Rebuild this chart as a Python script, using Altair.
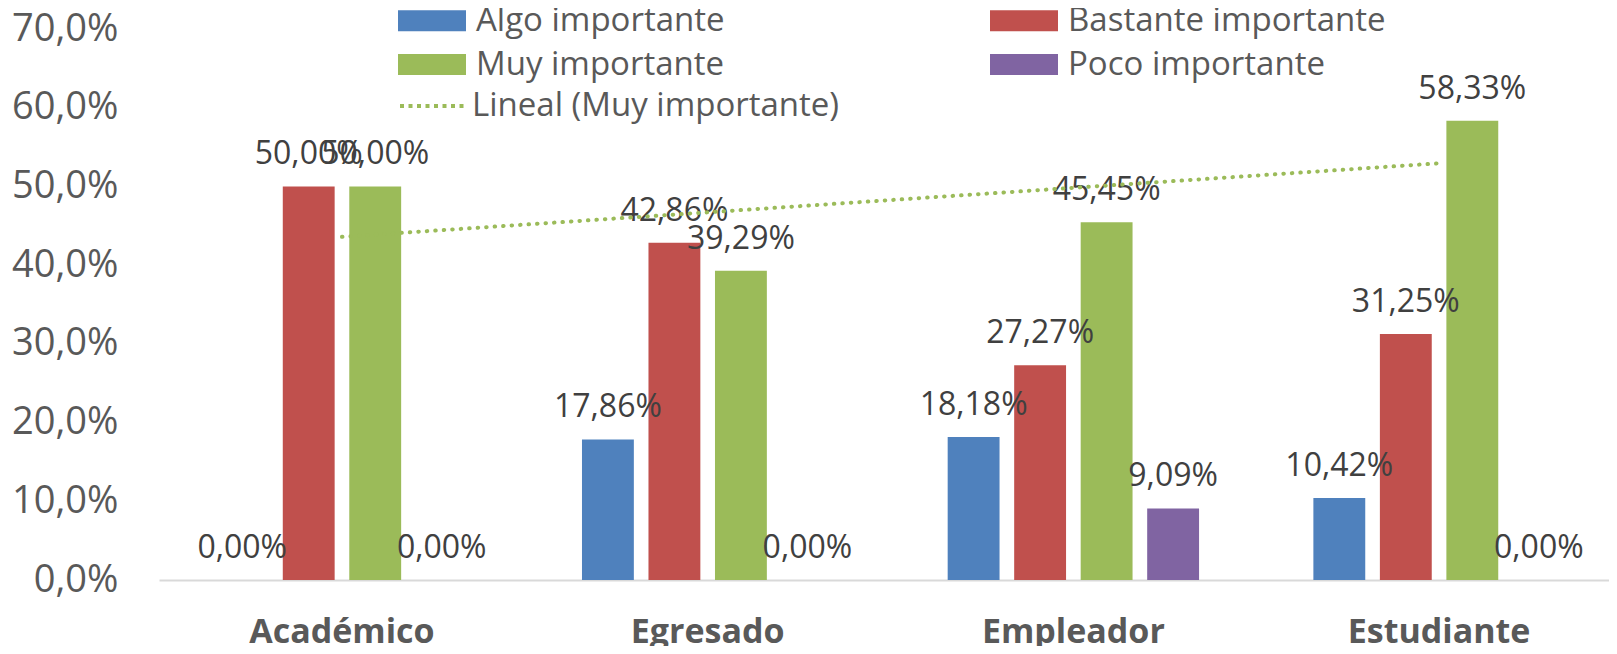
import json
import altair as alt
import pandas as pd

# ---- data ----
CATEGORIES = ["Académico", "Egresado", "Empleador", "Estudiante"]
SERIES = ["Algo importante", "Bastante importante", "Muy importante", "Poco importante"]
ALGO = [0.0, 0.1786, 0.1818, 0.1042]
BASTANTE = [0.5000, 0.4286, 0.2727, 0.3125]
MUY = [0.5000, 0.3929, 0.4545, 0.5833]
POCO = [0.0, 0.0, 0.0909, 0.0]
COLORS = ["#4F81BD", "#C0504D", "#9BBB59", "#8064A2"]
TREND_LABEL = "Lineal (Muy importante)"
TREND_SERIES = "Muy importante"
Y_TICKS = [0.0, 0.1, 0.2, 0.3, 0.4, 0.5, 0.6, 0.7]

FONT = "Open Sans"
TEXT_GRAY = "#595959"

rows = []
for s, vals in zip(SERIES, [ALGO, BASTANTE, MUY, POCO]):
    for i, (c, v) in enumerate(zip(CATEGORIES, vals)):
        rows.append({"category": c, "series": s, "value": v, "idx": i + 1})
df = pd.DataFrame(rows)

base = alt.Chart(df)

x_enc = alt.X(
    "category:N",
    sort=CATEGORIES,
    scale=alt.Scale(paddingInner=0.2726, paddingOuter=0.1188, align=0.575),
    axis=alt.Axis(
        title=None,
        labelAngle=0,
        labelFont=FONT,
        labelFontSize=34,
        labelFontWeight="bold",
        labelColor=TEXT_GRAY,
        labelPadding=35,
        labelBaseline="top",
        labelLimit=500,
        ticks=False,
        domainColor="#D9D9D9",
        domainWidth=2,
        grid=False,
    ),
)
xo_enc = alt.XOffset(
    "series:N", sort=SERIES, scale=alt.Scale(paddingInner=0.22, paddingOuter=0.11)
)
y_enc = alt.Y(
    "value:Q",
    scale=alt.Scale(domain=[0, 0.7], nice=False, zero=True),
    axis=alt.Axis(
        title=None,
        values=Y_TICKS,
        labelExpr="replace(format(datum.value, '.1%'), '.', ',')",
        labelFont=FONT,
        labelFontSize=38,
        labelColor=TEXT_GRAY,
        labelPadding=41,
        ticks=False,
        domain=False,
        grid=False,
    ),
)

bars = base.mark_bar().encode(
    x=x_enc,
    xOffset=xo_enc,
    y=y_enc,
    color=alt.Color(
        "series:N",
        sort=SERIES,
        scale=alt.Scale(domain=SERIES, range=COLORS),
        legend=alt.Legend(
            title=None,
            orient="none",
            direction="horizontal",
            legendX=233,
            legendY=-25,
            columns=2,
            symbolType="M-1,-1H5.476V1H-1Z",
            symbolSize=441,
            symbolStrokeWidth=0,
            symbolOpacity=1,
            labelFont=FONT,
            labelFontSize=33,
            labelColor=TEXT_GRAY,
            labelOffset=51,
            labelLimit=600,
            columnPadding=259,
            rowPadding=10,
        ),
    ),
)

labels = base.transform_calculate(
    label="replace(format(datum.value, '.2%'), '.', ',')"
).mark_text(
    baseline="alphabetic", align="center", dy=-22, font=FONT, fontSize=32, color="#404040"
).encode(x=x_enc, xOffset=xo_enc, y=y_enc, text="label:N")

cats_js = json.dumps(CATEGORIES, ensure_ascii=False)
trend = (
    base.transform_filter(alt.datum.series == TREND_SERIES)
    .transform_regression("idx", "value")
    .transform_calculate(
        category=f"{cats_js}[round(datum.idx) - 1]",
        lbl=f"'{TREND_LABEL}'",
    )
    .mark_line(strokeDash=[0.5, 8], strokeCap="round", strokeWidth=4)
    .encode(
        x=alt.X("category:N", sort=CATEGORIES),
        y=alt.Y("value:Q"),
        color=alt.Color(
            "lbl:N",
            scale=alt.Scale(range=["#9BBB59"]),
            legend=alt.Legend(
                title=None,
                orient="none",
                legendX=239,
                legendY=41,
                symbolType="stroke",
                symbolSize=4624,
                symbolStrokeWidth=4,
                symbolDash=[4, 4.5],
                labelFont=FONT,
                labelFontSize=33,
                labelColor=TEXT_GRAY,
                labelOffset=2,
                labelLimit=600,
            ),
        ),
    )
)

chart = (
    alt.layer(bars, labels, trend)
    .resolve_scale(color="independent")
    .properties(
        width=1450,
        height=551,
        autosize=alt.AutoSizeParams(type="none"),
        padding={"left": 151, "top": 21, "right": 0, "bottom": 66},
    )
    .configure_view(stroke=None)
)

chart.save("out.html", embed_options={"renderer": "svg", "actions": False})
